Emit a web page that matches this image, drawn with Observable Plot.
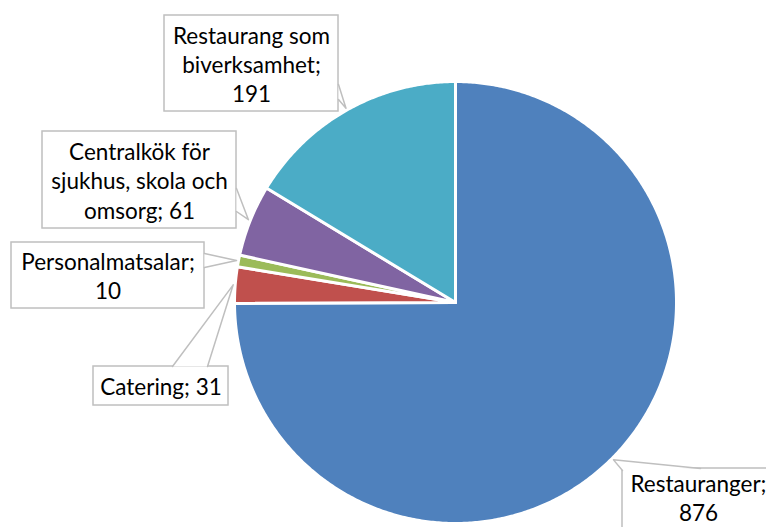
<!DOCTYPE html>
<html>
<head>
<meta charset="utf-8">
<script src="https://cdn.jsdelivr.net/npm/d3@7"></script>
<script src="https://cdn.jsdelivr.net/npm/@observablehq/plot@0.6"></script>
<style>
  html, body { margin: 0; padding: 0; background: #ffffff; }
  #chart { width: 766px; height: 527px; }
</style>
</head>
<body>
<div id="chart"></div>
<script>
// ---- data ----
const categories = [
  "Restauranger",
  "Catering",
  "Personalmatsalar",
  "Centralkök för sjukhus, skola och omsorg",
  "Restaurang som biverksamhet"
];
const values = [876, 31, 10, 61, 191];
const colors = ["#4F81BD", "#C0504D", "#9BBB59", "#8064A2", "#4BACC6"];

// ---- layout (pixel space) ----
const W = 766, H = 527;
const cx = 455, cy = 302, R = 221;
const boxes = [
  {x1: 622, y1: 468, x2: 780, y2: 540, base: [[622, 470], [700, 468]], maxChars: 13, tx: 698, ty: 497},
  {x1: 93, y1: 366, x2: 228, y2: 405, base: [[172, 366], [207, 366]], maxChars: 20},
  {x1: 11, y1: 242, x2: 204, y2: 308, base: [[204, 253], [204, 267]], maxChars: 17},
  {x1: 42, y1: 131, x2: 236, y2: 228, base: [[236, 188], [236, 211]], maxChars: 18},
  {x1: 164, y1: 15, x2: 338, y2: 111, base: [[338, 84], [338, 99]], maxChars: 15}
];

function wrap(text, maxChars) {
  const words = text.split(" ");
  const lines = [];
  let cur = "";
  for (const w of words) {
    if (cur && (cur + " " + w).length > maxChars) { lines.push(cur); cur = w; }
    else cur = cur ? cur + " " + w : w;
  }
  if (cur) lines.push(cur);
  return lines.join("\n");
}

const pie = d3.pie().sort(null).value(d => d.value)
  .startAngle(0).endAngle(2 * Math.PI);
const rows = categories.map((c, i) => ({category: c, value: values[i]}));
const arcs = pie(rows);

const pt = (a, r) => [cx + r * Math.sin(a), cy - r * Math.cos(a)];

// slice polygons
const slicePts = [];
arcs.forEach(a => {
  slicePts.push({category: a.data.category, x: cx, y: cy});
  const n = Math.max(2, Math.ceil((a.endAngle - a.startAngle) / (Math.PI / 360)));
  for (let k = 0; k <= n; k++) {
    const t = a.startAngle + (a.endAngle - a.startAngle) * k / n;
    const [x, y] = pt(t, R);
    slicePts.push({category: a.data.category, x, y});
  }
});

// callout wedges
const wedgePts = [];
const boxRows = [];
const labelRows = [];
arcs.forEach((a, i) => {
  const b = boxes[i];
  const mid = (a.startAngle + a.endAngle) / 2;
  const [tx, ty] = pt(mid, R + 2);
  wedgePts.push({id: i, x: b.base[0][0], y: b.base[0][1]});
  wedgePts.push({id: i, x: tx, y: ty});
  wedgePts.push({id: i, x: b.base[1][0], y: b.base[1][1]});
  boxRows.push({...b, id: i});
  labelRows.push({
    x: b.tx ?? (b.x1 + b.x2) / 2,
    y: b.ty ?? (b.y1 + b.y2) / 2,
    text: wrap(`${a.data.category}; ${a.data.value}`, b.maxChars)
  });
});

const chart = Plot.plot({
  width: W,
  height: H,
  margin: 0,
  x: {domain: [0, W], range: [0, W], axis: null},
  y: {domain: [0, H], range: [0, H], axis: null},
  color: {domain: categories, range: colors},
  style: {background: "#ffffff", fontFamily: "Lato, 'Open Sans', sans-serif"},
  marks: [
    Plot.line(slicePts, {
      x: "x", y: "y", z: "category", fill: "category",
      stroke: "#ffffff", strokeWidth: 3, strokeLinejoin: "round",
      curve: "linear-closed"
    }),
    Plot.rect(boxRows, {
      x1: "x1", x2: "x2", y1: "y1", y2: "y2",
      fill: "#ffffff", stroke: "#bfbfbf", strokeWidth: 1.5
    }),
    Plot.line(wedgePts, {
      x: "x", y: "y", z: "id", fill: "#ffffff",
      stroke: "#bfbfbf", strokeWidth: 1.5
    }),
    Plot.text(labelRows, {
      x: "x", y: "y", text: "text",
      fontSize: 22.5, lineHeight: 1.3, fill: "#000000"
    })
  ]
});

document.getElementById("chart").appendChild(chart);
</script>
</body>
</html>
